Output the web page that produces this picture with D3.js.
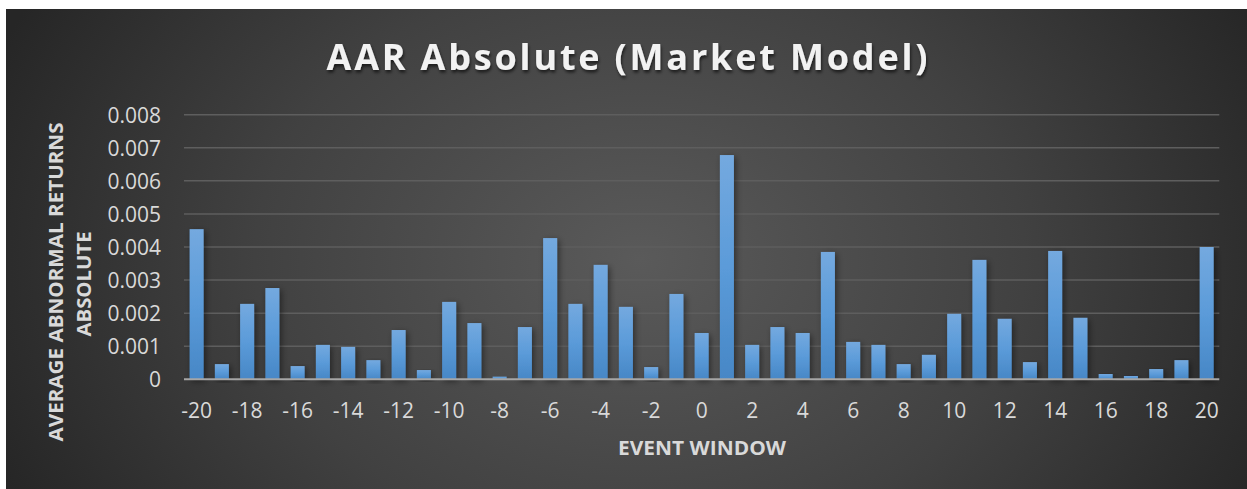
<!DOCTYPE html>
<html>
<head>
<meta charset="utf-8">
<script src="https://cdn.jsdelivr.net/npm/d3@7"></script>
<style>
  html, body { margin: 0; padding: 0; background: #ffffff; }
  svg { display: block; }
</style>
</head>
<body>
<svg id="chart" width="1247" height="489"></svg>
<script>
// ---- data ----
const categories = d3.range(-20, 21);
const aarValues = [
  0.00454, 0.00046, 0.00228, 0.00276, 0.00040, 0.00104, 0.00098, 0.00058, 0.00149, 0.00028,
  0.00234, 0.00170, 0.00008, 0.00158, 0.00427, 0.00228, 0.00346, 0.00219, 0.00037, 0.00258,
  0.00140, 0.00678, 0.00104, 0.00158, 0.00140, 0.00385, 0.00113, 0.00104, 0.00046, 0.00074,
  0.00198, 0.00361, 0.00183, 0.00052, 0.00388, 0.00186, 0.00016, 0.00010, 0.00031, 0.00058,
  0.00400
];
const yTickValues = [0, 0.001, 0.002, 0.003, 0.004, 0.005, 0.006, 0.007, 0.008];
const xTickValues = [-20, -18, -16, -14, -12, -10, -8, -6, -4, -2, 0, 2, 4, 6, 8, 10, 12, 14, 16, 18, 20];
const titleText = "AAR Absolute (Market Model)";
const yTitleLines = ["AVERAGE ABNORMAL RETURNS", "ABSOLUTE"];
const xTitleText = "EVENT WINDOW";

const data = categories.map((c, i) => ({ cat: c, value: aarValues[i] }));

// ---- layout ----
const W = 1247, H = 489;
const plot = { left: 184, right: 1219.3, top: 114.7, bottom: 379.3 };
const FONT = "'Open Sans', 'DejaVu Sans', sans-serif";

const svg = d3.select("#chart");
const defs = svg.append("defs");

// background radial gradient
const bg = defs.append("radialGradient")
  .attr("id", "bgGrad")
  .attr("gradientUnits", "userSpaceOnUse")
  .attr("cx", 640).attr("cy", 260).attr("r", 700)
  .attr("gradientTransform", "translate(640,260) scale(1,0.75) translate(-640,-260)");
bg.append("stop").attr("offset", "0%").attr("stop-color", "#5a5a5a");
bg.append("stop").attr("offset", "55%").attr("stop-color", "#414141");
bg.append("stop").attr("offset", "100%").attr("stop-color", "#262626");

// bar gradient
const barGrad = defs.append("linearGradient")
  .attr("id", "barGrad").attr("x1", 0).attr("y1", 0).attr("x2", 0).attr("y2", 1);
barGrad.append("stop").attr("offset", "0%").attr("stop-color", "#74a9df");
barGrad.append("stop").attr("offset", "50%").attr("stop-color", "#5b9bd9");
barGrad.append("stop").attr("offset", "100%").attr("stop-color", "#4787c6");

// bar shadow
const sh = defs.append("filter").attr("id", "barShadow")
  .attr("x", "-60%").attr("y", "-10%").attr("width", "220%").attr("height", "130%");
sh.append("feDropShadow").attr("dx", 2).attr("dy", 2).attr("stdDeviation", 3)
  .attr("flood-color", "#000").attr("flood-opacity", 0.45);

// title shadow
const ts = defs.append("filter").attr("id", "titleShadow")
  .attr("x", "-10%").attr("y", "-30%").attr("width", "120%").attr("height", "160%");
ts.append("feDropShadow").attr("dx", 1).attr("dy", 2.5).attr("stdDeviation", 1.5)
  .attr("flood-color", "#000").attr("flood-opacity", 0.6);

svg.append("rect")
  .attr("x", 6).attr("y", 9).attr("width", W - 6).attr("height", H - 9)
  .attr("fill", "url(#bgGrad)");

// ---- scales ----
const x = d3.scaleBand()
  .domain(categories)
  .range([plot.left, plot.right])
  .paddingInner(0.8 / 1.8)
  .paddingOuter(0.4 / 1.8);

const y = d3.scaleLinear()
  .domain([0, 0.008])
  .range([plot.bottom, plot.top]);

// ---- gridlines ----
svg.append("g")
  .selectAll("line")
  .data(yTickValues.filter(d => d > 0))
  .join("line")
  .attr("x1", plot.left).attr("x2", plot.right)
  .attr("y1", d => y(d)).attr("y2", d => y(d))
  .attr("stroke", "#5e5e5e")
  .attr("stroke-width", 1.5);

// ---- bars ----
svg.append("g")
  .selectAll("rect")
  .data(data)
  .join("rect")
  .attr("x", d => x(d.cat))
  .attr("width", x.bandwidth())
  .attr("y", d => y(d.value))
  .attr("height", d => y(0) - y(d.value))
  .attr("fill", "url(#barGrad)")
  .attr("filter", "url(#barShadow)");

// ---- axis line ----
svg.append("line")
  .attr("x1", plot.left).attr("x2", plot.right)
  .attr("y1", y(0)).attr("y2", y(0))
  .attr("stroke", "#a6a6a6")
  .attr("stroke-width", 2);

// ---- y axis ----
const yAxis = d3.axisLeft(y)
  .tickValues(yTickValues)
  .tickSize(0)
  .tickPadding(0)
  .tickFormat(d => d === 0 ? "0" : d3.format(".3f")(d));
const gy = svg.append("g")
  .attr("transform", `translate(161,0)`)
  .call(yAxis);
gy.select(".domain").remove();
gy.selectAll("text")
  .attr("fill", "#d9d9d9")
  .attr("font-family", FONT)
  .attr("font-size", 21)
  .attr("dy", "0.36em");

// ---- x axis ----
const xAxis = d3.axisBottom(x)
  .tickValues(xTickValues)
  .tickSize(0)
  .tickPadding(0);
const gx = svg.append("g")
  .attr("transform", `translate(0,${plot.bottom})`)
  .call(xAxis);
gx.select(".domain").remove();
gx.selectAll("text")
  .attr("fill", "#d9d9d9")
  .attr("font-family", FONT)
  .attr("font-size", 21)
  .attr("y", 0)
  .attr("dy", 0)
  .attr("transform", "translate(0,39)");

// ---- title ----
svg.append("text")
  .attr("x", 627).attr("y", 70)
  .attr("text-anchor", "middle")
  .attr("font-family", FONT)
  .attr("font-weight", "bold")
  .attr("font-size", 36)
  .attr("fill", "#f2f2f2")
  .attr("textLength", 601)
  .attr("lengthAdjust", "spacing")
  .attr("filter", "url(#titleShadow)")
  .text(titleText);

// ---- axis titles ----
const yTitle = svg.append("g").attr("transform", "translate(0,282)");
yTitle.append("text")
  .attr("transform", "translate(63,0) rotate(-90)")
  .attr("text-anchor", "middle")
  .attr("font-family", FONT).attr("font-weight", "bold").attr("font-size", 20)
  .attr("fill", "#d9d9d9")
  .attr("textLength", 319).attr("lengthAdjust", "spacingAndGlyphs")
  .text(yTitleLines[0]);
yTitle.append("text")
  .attr("transform", "translate(91,2) rotate(-90)")
  .attr("text-anchor", "middle")
  .attr("font-family", FONT).attr("font-weight", "bold").attr("font-size", 20)
  .attr("fill", "#d9d9d9")
  .attr("textLength", 105).attr("lengthAdjust", "spacingAndGlyphs")
  .text(yTitleLines[1]);

svg.append("text")
  .attr("x", 702).attr("y", 455)
  .attr("text-anchor", "middle")
  .attr("font-family", FONT).attr("font-weight", "bold").attr("font-size", 20)
  .attr("fill", "#d9d9d9")
  .attr("textLength", 168).attr("lengthAdjust", "spacingAndGlyphs")
  .text(xTitleText);
</script>
</body>
</html>
